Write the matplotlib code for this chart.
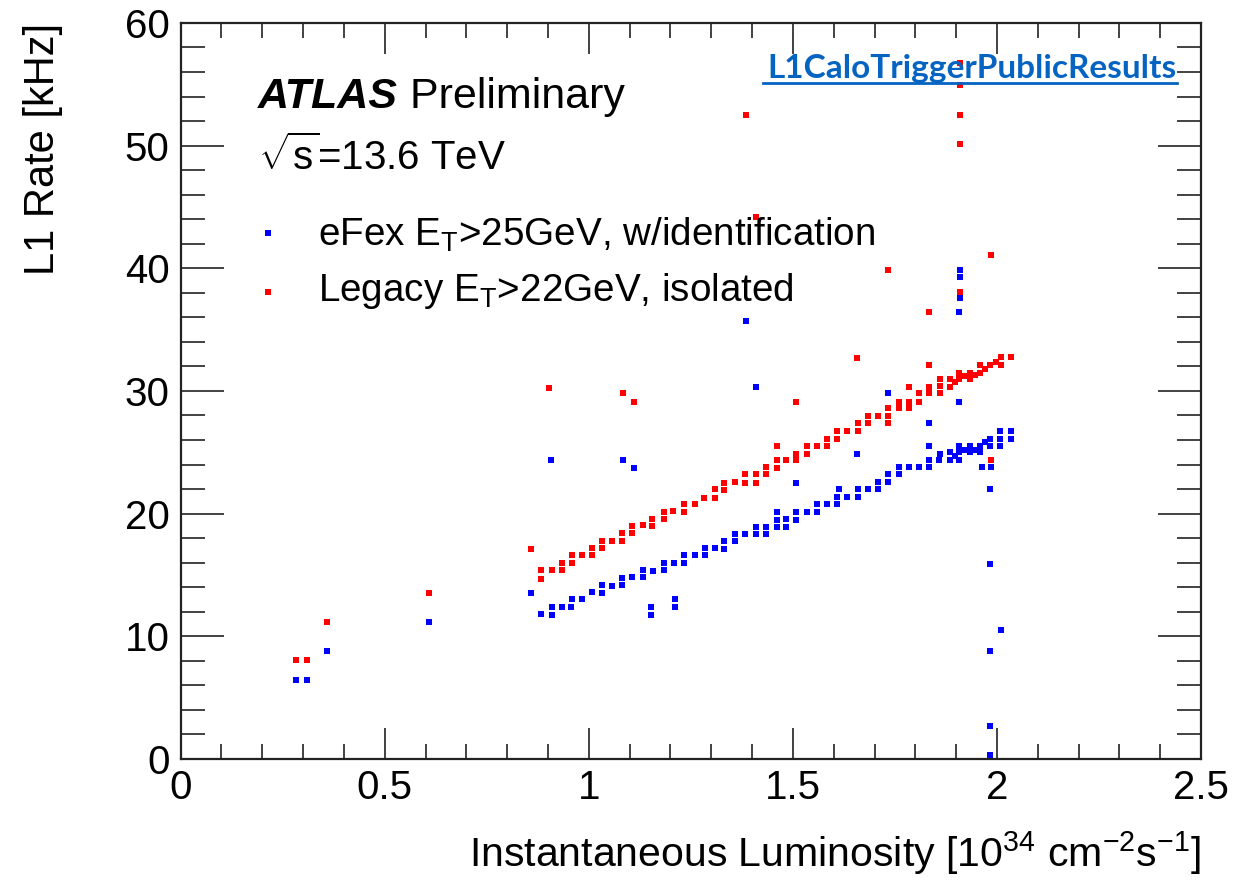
import matplotlib
matplotlib.use("Agg")
import matplotlib.pyplot as plt
from matplotlib.ticker import MultipleLocator

plt.rcParams['font.family'] = ['Liberation Sans', 'DejaVu Sans']
plt.rcParams['mathtext.fontset'] = 'custom'
plt.rcParams['mathtext.rm'] = 'Liberation Sans'
plt.rcParams['mathtext.it'] = 'Liberation Sans:italic'
plt.rcParams['mathtext.default'] = 'regular'

# eFex (blue) points: luminosity [1e34], rate [kHz]
efex_lumi = [0.282, 0.31, 0.358, 0.608, 0.858,
             0.882, 0.909, 0.909, 0.934, 0.957, 0.958, 0.983, 1.007, 1.033, 1.033, 1.058, 1.082, 1.082, 1.107, 1.133, 1.133,
             1.158, 1.183, 1.183, 1.209, 1.234, 1.234, 1.259, 1.285, 1.285, 1.308, 1.332, 1.332, 1.359, 1.359, 1.383, 1.409, 1.409, 1.434, 1.434,
             1.461, 1.461, 1.461, 1.484, 1.484, 1.508, 1.508, 1.534, 1.559, 1.559, 1.583, 1.608, 1.608, 1.612, 1.632, 1.659, 1.659, 1.684, 1.708, 1.708, 1.733, 1.733,
             1.761, 1.761, 1.785, 1.808, 1.834, 1.834, 1.834, 1.857, 1.861,
             1.884, 1.884, 1.908, 1.908, 1.908, 1.934, 1.934, 1.959, 1.959, 1.984, 1.984, 2.008, 2.008, 2.035, 2.008, 2.035, 1.896, 1.921, 1.946, 1.971,
             1.963, 1.986, 1.984, 1.984, 2.009, 1.984, 1.984, 1.984,
             0.908, 1.083, 1.111, 1.153, 1.153, 1.212, 1.212, 1.386, 1.409, 1.508, 1.658, 1.734, 1.834, 1.908, 1.908, 1.91, 1.91, 1.91]
efex_rate = [6.4, 6.4, 8.8, 11.2, 13.55,
             11.8, 11.7, 12.4, 12.4, 12.4, 13.0, 13.0, 13.6, 13.55, 14.2, 14.1, 14.2, 14.75, 14.8, 14.8, 15.4,
             15.35, 15.4, 15.95, 15.95, 15.95, 16.6, 16.6, 16.6, 17.2, 17.2, 17.1, 17.8, 17.8, 18.3, 18.35, 18.35, 18.9, 18.9, 18.35,
             20.15, 19.5, 18.9, 19.55, 18.9, 20.15, 19.5, 20.15, 20.15, 20.8, 20.8, 20.8, 21.35, 22.0, 21.35, 21.35, 22.0, 22.0, 22.6, 22.0, 22.6, 23.2,
             23.2, 23.8, 23.8, 23.8, 23.8, 24.4, 25.5, 24.4, 24.9,
             24.4, 25.0, 24.4, 25.0, 25.5, 25.0, 25.5, 25.5, 25.0, 25.5, 26.1, 26.1, 25.5, 26.1, 26.75, 26.75, 24.7, 25.2, 25.2, 25.8,
             23.8, 23.8, 22.0, 15.9, 10.5, 8.8, 2.7, 0.3,
             24.4, 24.4, 23.7, 12.4, 11.7, 13.0, 12.4, 35.7, 30.3, 22.5, 24.9, 29.8, 27.4, 29.1, 36.4, 37.6, 39.3, 39.9]

# Legacy (red) points
legacy_lumi = [0.282, 0.31, 0.358, 0.608, 0.858,
               0.882, 0.882, 0.909, 0.934, 0.934, 0.958, 0.958, 0.983, 1.007, 1.007, 1.033, 1.033, 1.058, 1.082, 1.082, 1.107, 1.107, 1.133,
               1.156, 1.156, 1.183, 1.183, 1.207, 1.232, 1.232, 1.259, 1.283, 1.308, 1.308, 1.332, 1.332, 1.359, 1.383, 1.383, 1.409, 1.409, 1.434, 1.434,
               1.461, 1.461, 1.484, 1.508, 1.508, 1.534, 1.534, 1.559, 1.583, 1.583, 1.608, 1.608, 1.632, 1.659, 1.659, 1.684, 1.684, 1.708, 1.733, 1.733, 1.733,
               1.761, 1.761, 1.785, 1.785, 1.81, 1.81, 1.834, 1.834, 1.861, 1.861, 1.861,
               1.884, 1.884, 1.908, 1.908, 1.934, 1.934, 1.959, 1.959, 1.984, 2.01, 2.01, 2.035, 1.896, 1.921, 1.946, 1.971, 1.997,
               0.903, 1.083, 1.111, 1.461, 1.508, 1.658, 1.785, 1.834, 1.834, 1.734, 1.985, 1.91, 1.41, 1.386, 1.91, 1.91, 1.91, 1.91, 1.986]
legacy_rate = [8.1, 8.1, 11.2, 13.55, 17.1,
               15.4, 14.7, 15.4, 15.4, 16.0, 16.0, 16.6, 16.6, 16.6, 17.2, 17.2, 17.8, 17.8, 17.8, 18.4, 18.4, 19.0, 19.05,
               19.0, 19.55, 19.55, 20.15, 20.2, 20.15, 20.8, 20.8, 21.3, 21.3, 22.0, 21.9, 22.5, 22.6, 22.5, 23.2, 22.5, 23.2, 23.2, 23.8,
               24.4, 23.75, 24.4, 24.9, 24.4, 25.5, 24.9, 25.5, 26.1, 25.5, 26.1, 26.7, 26.7, 26.7, 27.4, 27.4, 27.95, 27.95, 28.6, 27.95, 27.4,
               29.1, 28.6, 29.1, 28.6, 29.1, 29.8, 29.8, 30.3, 29.8, 30.4, 31.0,
               30.3, 31.0, 31.0, 31.5, 31.0, 31.5, 31.5, 32.1, 32.1, 32.1, 32.8, 32.8, 30.7, 31.2, 31.3, 31.8, 32.4,
               30.2, 29.8, 29.1, 25.5, 29.1, 32.7, 30.3, 32.1, 36.4, 39.9, 41.1, 38.1, 44.2, 52.5, 50.1, 52.5, 54.9, 56.7, 24.4]

legend_labels = ["eFex E$_{T}$>25GeV, w/identification", "Legacy E$_{T}$>22GeV, isolated"]
x_tick_values = [0, 0.5, 1, 1.5, 2, 2.5]
x_tick_labels = ["0", "0.5", "1", "1.5", "2", "2.5"]

fig = plt.figure(figsize=(12.34, 8.82), dpi=100)
ax = fig.add_axes([0.1464, 0.1395, 0.9733 - 0.1464, 0.974 - 0.1395])

ms = 4.4
ax.plot(efex_lumi, efex_rate, 's', color=(0, 0, 1), ms=ms, mew=0, zorder=3)
ax.plot(legacy_lumi, legacy_rate, 's', color=(1, 0, 0), ms=ms, mew=0, zorder=3)

ax.set_xlim(0, 2.5)
ax.set_ylim(0, 60)
ax.xaxis.set_minor_locator(MultipleLocator(0.1))
ax.yaxis.set_major_locator(MultipleLocator(10))
ax.yaxis.set_minor_locator(MultipleLocator(2))
ax.set_xticks(x_tick_values)
ax.set_xticklabels(x_tick_labels)
ax.tick_params(axis='both', which='both', direction='in', top=True, right=True, width=1.2, colors='#222222')
ax.tick_params(axis='x', which='major', length=22, labelsize=29, pad=7)
ax.tick_params(axis='x', which='minor', length=11)
ax.tick_params(axis='y', which='major', length=31, labelsize=29, pad=8)
ax.tick_params(axis='y', which='minor', length=17)
for lbl in ax.get_xticklabels() + ax.get_yticklabels():
    lbl.set_color('black')
for s in ax.spines.values():
    s.set_linewidth(1.6)
    s.set_color('#222222')

ax.set_ylabel("L1 Rate [kHz]", fontsize=30, loc='top', labelpad=44)
ax.set_xlabel("Instantaneous Luminosity [10$^{34}$ cm$^{-2}$s$^{-1}$]", fontsize=29.5, loc='right', labelpad=16)

# ATLAS label
t = ax.text(0.0758, 0.885, "ATLAS", transform=ax.transAxes, fontsize=31, fontweight='bold',
            fontstyle='italic', va='baseline', ha='left', zorder=5)
ax.annotate(" Preliminary", xycoords=t, xy=(1, 0), va='bottom', ha='left', fontsize=31, zorder=5)
ax.text(0.0758, 0.800, r"$\sqrt{\mathrm{s}}$=13.6 TeV", transform=ax.transAxes, fontsize=29,
        va='baseline', ha='left', zorder=5)

# legend
text_y = [0.698, 0.622]
mark_y = [0.714, 0.634]
colors = [(0, 0, 1), (1, 0, 0)]
for ty, my, lab, c in zip(text_y, mark_y, legend_labels, colors):
    ax.plot([0.0856], [my], 's', color=c, ms=ms, mew=0, transform=ax.transAxes, clip_on=False)
    ax.text(0.1346, ty, lab, transform=ax.transAxes, fontsize=27.8, va='baseline', ha='left', zorder=5)

fig.text(0.9538, 0.9116, "L1CaloTriggerPublicResults", fontsize=24, fontweight='bold',
         family=['Lato', 'DejaVu Sans'], color='#0563C1', ha='right', va='baseline', zorder=10)
fig.add_artist(plt.Line2D([0.6183, 0.9538], [0.9055, 0.9055], color='#0563C1', lw=2,
                          transform=fig.transFigure, zorder=10))

fig.savefig("out.png", dpi=100)
